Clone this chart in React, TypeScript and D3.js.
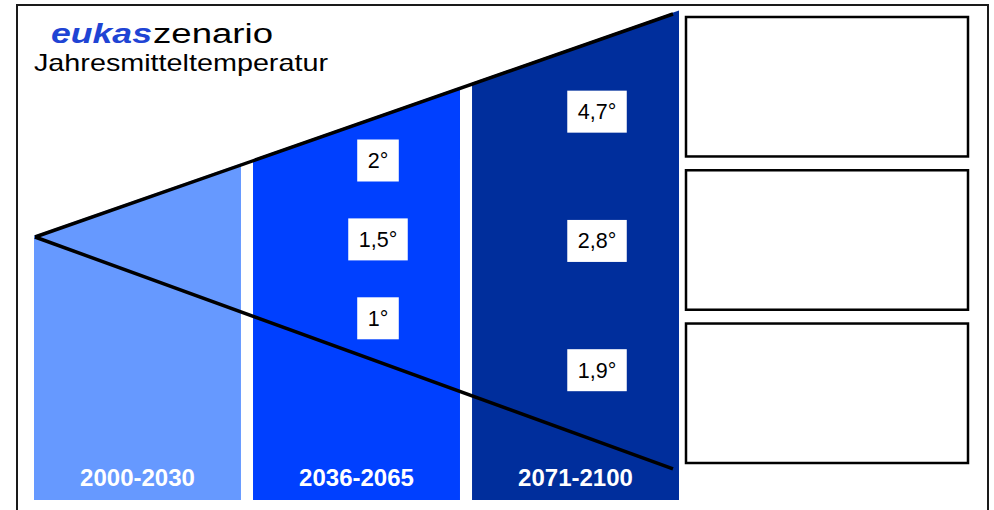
import * as d3 from 'd3'
import { useEffect, useRef } from 'react'

const W = 994
const H = 510
const FONT = '"Liberation Sans", Arial, sans-serif'

// periods shown as columns
const periods = ['2000-2030', '2036-2065', '2071-2100']
const periodColors = ['#6699ff', '#0040ff', '#002e9c']

// temperature increase labels per period (high, mid, low)
const levels = ['hoch', 'mittel', 'niedrig']
const tempMid = ['2°', '1,5°', '1°']
const tempEnd = ['4,7°', '2,8°', '1,9°']
const tempByPeriod: (string[] | null)[] = [null, tempMid, tempEnd]

// cone in abstract units: position 0..1 along time, spread up / down
const conePos = [0, 1]
const coneUpper = [0, 1]
const coneLower = [0, -1.04]

// empty legend boxes on the right
const sideBoxes = ['a', 'b', 'c']

const COL_BOTTOM = 500
const LABEL_SHIFT = 21.5
const BOX_PAD = 10.5
const BOX_H = 42

export default function App() {
  const svgRef = useRef<SVGSVGElement>(null)

  useEffect(() => {
    if (!svgRef.current) return
    const svg = d3.select(svgRef.current)
    svg.selectAll('*').remove()

    const xBand = d3.scaleBand<string>().domain(periods).range([34, 679]).paddingInner(0.055)
    const xCone = d3.scaleLinear().domain([0, 1]).range([35, 673])
    const yCone = d3.scaleLinear().domain([0, 1]).range([237, 14])

    const slope = (vals: number[]) => (px: number) => {
      const t = xCone.invert(px)
      return yCone(vals[0] + (vals[1] - vals[0]) * t)
    }
    const upperAt = slope(coneUpper)
    const lowerAt = slope(coneLower)

    // outer frame
    svg.append('rect')
      .attr('x', 17).attr('y', 5)
      .attr('width', 971).attr('height', 540)
      .attr('fill', 'white')
      .attr('stroke', '#1a1a1a')
      .attr('stroke-width', 2)

    // columns
    svg.selectAll('.col')
      .data(periods)
      .enter()
      .append('polygon')
      .attr('class', 'col')
      .attr('fill', (_, i) => periodColors[i])
      .attr('points', d => {
        const x0 = xBand(d)!
        const x1 = x0 + xBand.bandwidth()
        return [
          [x0, COL_BOTTOM], [x0, upperAt(x0) - 1.5], [x1, upperAt(x1) - 1.5], [x1, COL_BOTTOM],
        ].map(p => p.join(',')).join(' ')
      })

    // period labels
    svg.selectAll('.period')
      .data(periods)
      .enter()
      .append('text')
      .attr('x', d => xBand(d)! + xBand.bandwidth() / 2)
      .attr('y', 486)
      .attr('text-anchor', 'middle')
      .attr('font-family', FONT)
      .attr('font-weight', 'bold')
      .attr('font-size', 24)
      .attr('fill', 'white')
      .text(d => d)

    // cone lines
    const line = d3.line<[number, number]>()
      .x(d => xCone(d[0]))
      .y(d => yCone(d[1]))
    for (const vals of [coneUpper, coneLower]) {
      svg.append('path')
        .attr('d', line(conePos.map((p, i) => [p, vals[i]] as [number, number])))
        .attr('fill', 'none')
        .attr('stroke', 'black')
        .attr('stroke-width', 3.5)
    }

    // temperature labels
    periods.forEach((p, pi) => {
      const labels = tempByPeriod[pi]
      if (!labels) return
      const cx = xBand(p)! + xBand.bandwidth() / 2 + LABEL_SHIFT
      const yPt = d3.scalePoint<string>().domain(levels)
        .range([upperAt(cx), lowerAt(cx)])
        .padding(0.55)
      const g = svg.append('g')
      labels.forEach((lab, li) => {
        const cy = yPt(levels[li])!
        const rect = g.append('rect').attr('fill', 'white')
        const t = g.append('text')
          .attr('x', cx)
          .attr('y', cy + 7.5)
          .attr('text-anchor', 'middle')
          .attr('font-family', FONT)
          .attr('font-size', 21.5)
          .attr('fill', 'black')
          .text(lab)
        const tw = (t.node() as SVGTextElement).getComputedTextLength()
        rect.attr('x', cx - tw / 2 - BOX_PAD)
          .attr('y', cy - BOX_H / 2)
          .attr('width', tw + BOX_PAD * 2)
          .attr('height', BOX_H)
      })
    })

    // side boxes
    const yBox = d3.scaleBand<string>().domain(sideBoxes).range([17, 463]).paddingInner(0.09)
    svg.selectAll('.side')
      .data(sideBoxes)
      .enter()
      .append('rect')
      .attr('x', 686)
      .attr('y', d => yBox(d)!)
      .attr('width', 282)
      .attr('height', yBox.bandwidth())
      .attr('fill', 'white')
      .attr('stroke', 'black')
      .attr('stroke-width', 2.5)

    // title
    svg.append('text')
      .attr('x', 51).attr('y', 43)
      .attr('font-family', FONT)
      .attr('font-size', 27)
      .attr('font-weight', 'bold')
      .attr('font-style', 'italic')
      .attr('fill', '#1f44d4')
      .attr('textLength', 101)
      .attr('lengthAdjust', 'spacingAndGlyphs')
      .text('eukas')
    svg.append('text')
      .attr('x', 153).attr('y', 43)
      .attr('font-family', FONT)
      .attr('font-size', 27)
      .attr('fill', 'black')
      .attr('textLength', 120)
      .attr('lengthAdjust', 'spacingAndGlyphs')
      .text('zenario')
    svg.append('text')
      .attr('x', 34).attr('y', 71)
      .attr('font-family', FONT)
      .attr('font-size', 24)
      .attr('fill', 'black')
      .attr('textLength', 294)
      .attr('lengthAdjust', 'spacingAndGlyphs')
      .text('Jahresmitteltemperatur')
  }, [])

  return (
    <svg
      ref={svgRef}
      width={W}
      height={H}
      style={{ position: 'absolute', left: 0, top: 0, display: 'block', background: 'white' }}
    />
  )
}
